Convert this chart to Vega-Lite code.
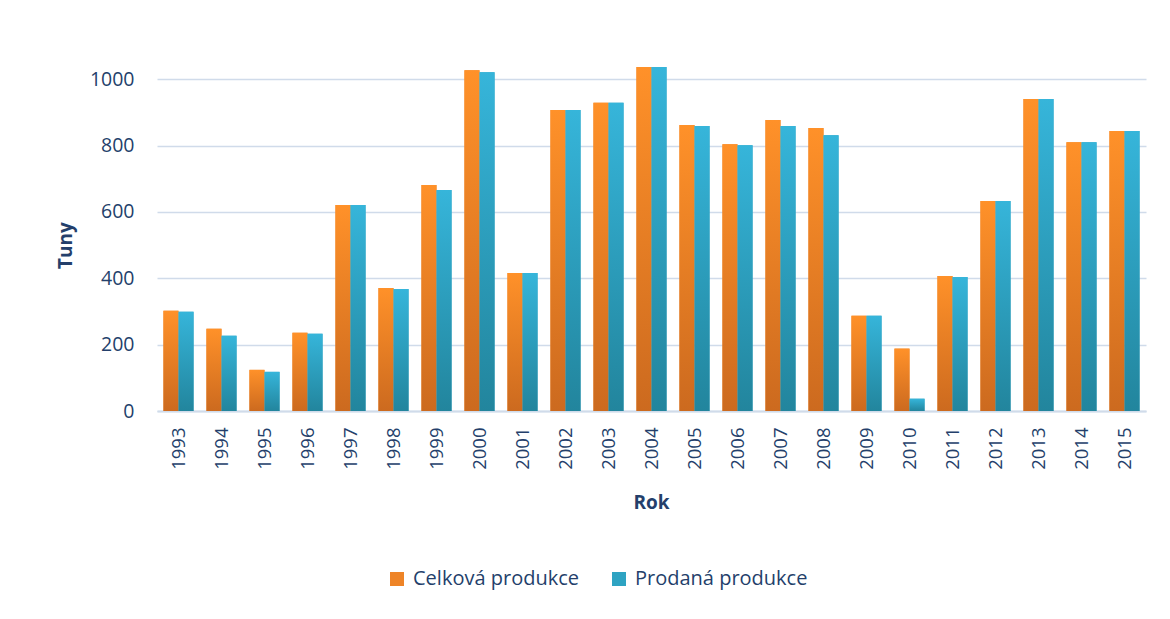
{
  "$schema": "https://vega.github.io/schema/vega-lite/v6.json",
  "width": 989,
  "height": 365,
  "autosize": "none",
  "padding": {"left": 157, "top": 46, "right": 24, "bottom": 208},
  "background": "white",
  "config": {
    "font": "Open Sans",
    "view": {"stroke": null},
    "axis": {"labelColor": "#243F6B", "titleColor": "#243F6B", "labelFont": "Open Sans", "titleFont": "Open Sans"},
    "legend": {"labelColor": "#243F6B", "labelFont": "Open Sans"}
  },
  "data": {
    "values": [
      {"year": "1993", "series": "Celková produkce", "value": 302},
      {"year": "1993", "series": "Prodaná produkce", "value": 299},
      {"year": "1994", "series": "Celková produkce", "value": 248},
      {"year": "1994", "series": "Prodaná produkce", "value": 227},
      {"year": "1995", "series": "Celková produkce", "value": 124},
      {"year": "1995", "series": "Prodaná produkce", "value": 118},
      {"year": "1996", "series": "Celková produkce", "value": 236},
      {"year": "1996", "series": "Prodaná produkce", "value": 233},
      {"year": "1997", "series": "Celková produkce", "value": 621},
      {"year": "1997", "series": "Prodaná produkce", "value": 621},
      {"year": "1998", "series": "Celková produkce", "value": 371},
      {"year": "1998", "series": "Prodaná produkce", "value": 368},
      {"year": "1999", "series": "Celková produkce", "value": 681},
      {"year": "1999", "series": "Prodaná produkce", "value": 666},
      {"year": "2000", "series": "Celková produkce", "value": 1027},
      {"year": "2000", "series": "Prodaná produkce", "value": 1021},
      {"year": "2001", "series": "Celková produkce", "value": 416},
      {"year": "2001", "series": "Prodaná produkce", "value": 416},
      {"year": "2002", "series": "Celková produkce", "value": 907},
      {"year": "2002", "series": "Prodaná produkce", "value": 907},
      {"year": "2003", "series": "Celková produkce", "value": 929},
      {"year": "2003", "series": "Prodaná produkce", "value": 929},
      {"year": "2004", "series": "Celková produkce", "value": 1037},
      {"year": "2004", "series": "Prodaná produkce", "value": 1037},
      {"year": "2005", "series": "Celková produkce", "value": 862},
      {"year": "2005", "series": "Prodaná produkce", "value": 859},
      {"year": "2006", "series": "Celková produkce", "value": 804},
      {"year": "2006", "series": "Prodaná produkce", "value": 801},
      {"year": "2007", "series": "Celková produkce", "value": 877},
      {"year": "2007", "series": "Prodaná produkce", "value": 859},
      {"year": "2008", "series": "Celková produkce", "value": 853},
      {"year": "2008", "series": "Prodaná produkce", "value": 831},
      {"year": "2009", "series": "Celková produkce", "value": 287},
      {"year": "2009", "series": "Prodaná produkce", "value": 287},
      {"year": "2010", "series": "Celková produkce", "value": 188},
      {"year": "2010", "series": "Prodaná produkce", "value": 37},
      {"year": "2011", "series": "Celková produkce", "value": 407},
      {"year": "2011", "series": "Prodaná produkce", "value": 404},
      {"year": "2012", "series": "Celková produkce", "value": 633},
      {"year": "2012", "series": "Prodaná produkce", "value": 633},
      {"year": "2013", "series": "Celková produkce", "value": 940},
      {"year": "2013", "series": "Prodaná produkce", "value": 940},
      {"year": "2014", "series": "Celková produkce", "value": 810},
      {"year": "2014", "series": "Prodaná produkce", "value": 810},
      {"year": "2015", "series": "Celková produkce", "value": 844},
      {"year": "2015", "series": "Prodaná produkce", "value": 844}
    ]
  },
  "encoding": {
    "x": {
      "field": "year",
      "type": "nominal",
      "scale": {"paddingInner": 0.3, "paddingOuter": 0.15},
      "axis": {
        "title": "Rok",
        "titleFontSize": 19,
        "titleFontWeight": "bold",
        "titleX": 494,
        "titleY": 91,
        "titleBaseline": "middle",
        "labelAngle": -90,
        "labelAlign": "right",
        "labelBaseline": "middle",
        "labelFontSize": 18.5,
        "labelPadding": 16,
        "ticks": false,
        "domain": true,
        "domainColor": "#D0DBEA",
        "domainWidth": 2
      }
    },
    "xOffset": {
      "field": "series",
      "type": "nominal",
      "scale": {"domain": ["Celková produkce", "Prodaná produkce"], "paddingInner": 0, "paddingOuter": 0}
    },
    "y": {
      "field": "value",
      "type": "quantitative",
      "scale": {"domain": [0, 1100], "nice": false},
      "axis": {
        "title": "Tuny",
        "titleFontSize": 19,
        "titleFontWeight": "bold",
        "titleAngle": -90,
        "titleX": -92,
        "titleY": 199,
        "titleAlign": "center",
        "titleBaseline": "middle",
        "values": [0, 200, 400, 600, 800, 1000],
        "format": "d",
        "labelFontSize": 19.5,
        "labelPadding": 23,
        "ticks": false,
        "domain": false,
        "grid": true,
        "gridColor": "#D0DBEA",
        "gridWidth": 1.5
      }
    }
  },
  "layer": [
    {
      "mark": {"type": "bar"},
      "encoding": {
        "color": {
          "field": "series",
          "type": "nominal",
          "scale": {"domain": ["Celková produkce", "Prodaná produkce"], "range": ["#EE8427", "#2EA3C2"]},
          "legend": {
            "title": null,
            "orient": "none",
            "direction": "horizontal",
            "legendX": 230,
            "legendY": 523,
            "symbolType": "square",
            "symbolSize": 196,
            "symbolStrokeWidth": 0,
            "labelFontSize": 20,
            "labelOffset": 6,
            "labelLimit": 400,
            "columnPadding": 30
          }
        }
      }
    },
    {
      "transform": [{"filter": "datum.series === 'Celková produkce'"}],
      "mark": {
        "type": "bar",
        "fill": {
          "gradient": "linear",
          "x1": 0, "y1": 0, "x2": 0, "y2": 1,
          "stops": [
            {"offset": 0, "color": "#FF9129"},
            {"offset": 1, "color": "#CC6A1F"}
          ]
        }
      }
    },
    {
      "transform": [{"filter": "datum.series === 'Prodaná produkce'"}],
      "mark": {
        "type": "bar",
        "fill": {
          "gradient": "linear",
          "x1": 0, "y1": 0, "x2": 0, "y2": 1,
          "stops": [
            {"offset": 0, "color": "#36B5DA"},
            {"offset": 1, "color": "#22859D"}
          ]
        }
      }
    }
  ]
}
